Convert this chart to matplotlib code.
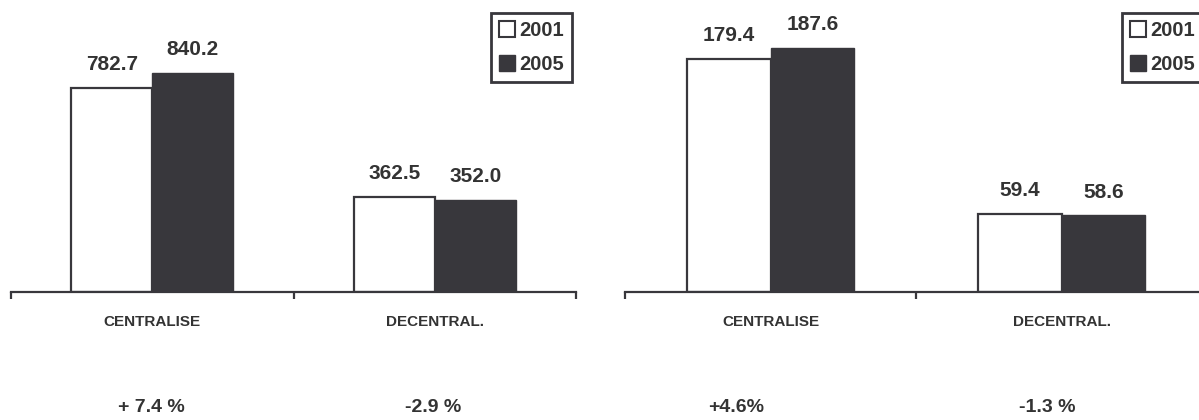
import matplotlib.pyplot as plt
from matplotlib.patches import Patch

categories = ['CENTRALISE', 'DECENTRAL.']
years = ['2001', '2005']

left_2001 = [782.7, 362.5]
left_2005 = [840.2, 352.0]
right_2001 = [179.4, 59.4]
right_2005 = [187.6, 58.6]

changes = ['+ 7.4 %', '-2.9 %', '+4.6%', '-1.3 %']
change_x = [151, 433, 736, 1047]

dark = '#38373c'
txt = '#333333'

plt.rcParams['font.family'] = ['Liberation Sans', 'DejaVu Sans']

W, H = 1199, 420
fig = plt.figure(figsize=(W / 100, H / 100), dpi=100)

ax1 = fig.add_axes([11 / W, (H - 291.5) / H, 565 / W, 291.5 / H])
ax2 = fig.add_axes([625 / W, (H - 291.5) / H, 582 / W, 291.5 / H])


def draw(ax, v1, v2, ymax, legend_x):
    x = range(len(categories))
    w = 0.287
    b1 = ax.bar([i - w / 2 for i in x], v1, w, color='white', edgecolor=dark,
                linewidth=1.6, label=years[0], zorder=2)
    b2 = ax.bar([i + w / 2 for i in x], v2, w, color=dark, edgecolor=dark,
                linewidth=1.0, label=years[1], zorder=2)
    for bars, vals in ((b1, v1), (b2, v2)):
        for r, v in zip(bars, vals):
            ax.annotate(f'{v:.1f}', (r.get_x() + r.get_width() / 2, v),
                        xytext=(0, 10), textcoords='offset points',
                        ha='center', va='bottom', fontsize=15,
                        fontweight='bold', color=txt)
    ax.set_xlim(-0.5, 1.5)
    ax.set_ylim(0, ymax)
    for s in ('top', 'right', 'left'):
        ax.spines[s].set_visible(False)
    ax.spines['bottom'].set_color(dark)
    ax.spines['bottom'].set_linewidth(1.6)
    ax.set_yticks([])
    ax.set_xticks([-0.5, 0.5, 1.5])
    ax.set_xticklabels([])
    ax.tick_params(axis='x', length=5, width=1.6, color=dark)
    for i, c in enumerate(categories):
        ax.annotate(c, (i, 0), xytext=(0, -22), textcoords='offset points',
                    ha='center', va='center', fontsize=11, fontweight='bold',
                    color=txt)
    handles = [Patch(facecolor='white', edgecolor=dark, linewidth=1.5),
               Patch(facecolor=dark, edgecolor=dark)]
    leg = ax.legend(handles, years, loc='upper left',
                    bbox_to_anchor=(legend_x / W, 1 - 13 / H),
                    bbox_transform=fig.transFigure, borderaxespad=0,
                    fancybox=False, edgecolor=dark, framealpha=1,
                    prop={'weight': 'bold', 'size': 14.5},
                    handlelength=0.8, handleheight=0.8, handletextpad=0.2,
                    labelspacing=0.75, borderpad=0.4)
    leg.get_frame().set_linewidth(2)
    for t in leg.get_texts():
        t.set_color(txt)


draw(ax1, left_2001, left_2005, 1119, 491)
draw(ax2, right_2001, right_2005, 224.5, 1122)

for s, xp in zip(changes, change_x):
    fig.text(xp / W, 1 - 408 / H, s, ha='center', va='center', fontsize=14,
             fontweight='bold', color=txt)

fig.savefig('out.png', dpi=100)
